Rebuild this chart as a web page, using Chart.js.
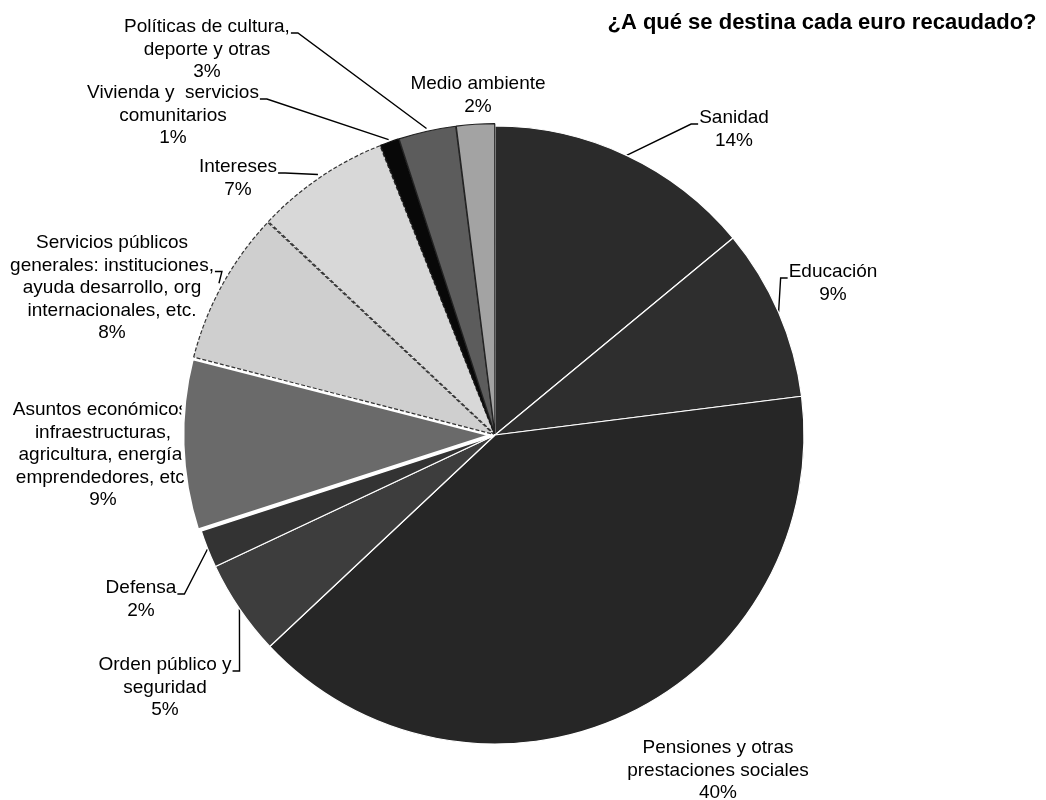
<!DOCTYPE html>
<html lang="es">
<head>
<meta charset="utf-8">
<title>¿A qué se destina cada euro recaudado?</title>
<script src="https://cdn.jsdelivr.net/npm/chart.js@4.4.1/dist/chart.umd.min.js"></script>
<style>
  html, body { margin: 0; padding: 0; background: #fff; }
  #wrap { position: relative; width: 1046px; height: 800px; }
</style>
</head>
<body>
<div id="wrap"><canvas id="pie"></canvas></div>
<script>
const chartTitle = "¿A qué se destina cada euro recaudado?";

// slices, clockwise from 12 o'clock
const categories = [
  "Sanidad",
  "Educación",
  "Pensiones y otras\nprestaciones sociales",
  "Orden público y\nseguridad",
  "Defensa",
  "Asuntos económicos:\ninfraestructuras,\nagricultura, energía,\nemprendedores, etc.",
  "Servicios públicos\ngenerales: instituciones,\nayuda desarrollo, org\ninternacionales, etc.",
  "Intereses",
  "Vivienda y  servicios\ncomunitarios",
  "Políticas de cultura,\ndeporte y otras",
  "Medio ambiente"
];
const shares = [14, 9, 40, 5, 2, 9, 8, 7, 1, 3, 2];

const sliceColors = ["#2b2b2b", "#2e2e2e", "#262626", "#3d3d3d", "#333333", "#6a6a6a",
                     "#cfcfcf", "#d8d8d8", "#080808", "#5c5c5c", "#a3a3a3"];
const edgeColors = ["#ffffff", "#ffffff", "#ffffff", "#ffffff", "#ffffff", "#ffffff",
                    "#333333", "#333333", "#111111", "#222222", "#222222"];
const edgeWidths = [1.2, 1.2, 1.2, 1.2, 1.2, 4, 1.2, 1.2, 1.2, 1.2, 1.2];
const sliceOffsets = [0, 0, 0, 0, 0, 10, 6, 6, 5, 5, 5];

// label block: text centre x, first line centre y, line the leader attaches to (-1 = none)
const labelLayout = [
  [734, 118, 0], [833, 272, 0], [718, 748, -1], [165, 665, 0], [141, 588, 0], [103, 410, -1],
  [112, 243, 1], [238, 167, 0], [173, 93, 0], [207, 27, 0], [478, 84, -1]
];
const LINE_H = 22.5;
const LABEL_FONT = "19px 'Liberation Sans', Arial, sans-serif";

const pieLabels = {
  id: "pieLabels",
  beforeDatasetsDraw(chart) {
    const ctx = chart.ctx;
    const meta = chart.getDatasetMeta(0);
    ctx.save();
    ctx.font = LABEL_FONT;
    ctx.fillStyle = "#000";
    ctx.strokeStyle = "#000";
    ctx.lineWidth = 1.4;
    ctx.textAlign = "center";
    ctx.textBaseline = "middle";

    meta.data.forEach((arc, i) => {
      const p = arc.getProps(["x", "y", "startAngle", "endAngle", "outerRadius"], true);
      const [lx, ly, attach] = labelLayout[i];
      const lines = categories[i].split("\n").concat(shares[i] + "%");

      lines.forEach((t, k) => ctx.fillText(t, lx, ly + k * LINE_H));

      if (attach < 0) return;
      const mid = (p.startAngle + p.endAngle) / 2;
      const r = p.outerRadius + sliceOffsets[i];
      const ax = p.x + Math.cos(mid) * r;
      const ay = p.y + Math.sin(mid) * r;
      const w = ctx.measureText(lines[attach]).width;
      const onRight = ax > lx;
      const ex = onRight ? lx + w / 2 + 1 : lx - w / 2 - 1;
      const by = ly + attach * LINE_H + 6;
      const tail = onRight ? ex + 7 : ex - 7;
      ctx.beginPath();
      ctx.moveTo(ax, ay);
      ctx.lineTo(tail, by);
      ctx.lineTo(ex, by);
      ctx.stroke();
    });
    ctx.restore();
  },
  afterDraw(chart) {
    const ctx = chart.ctx;
    ctx.save();
    ctx.font = "bold 22px 'Liberation Sans', Arial, sans-serif";
    ctx.fillStyle = "#000";
    ctx.textAlign = "center";
    ctx.textBaseline = "middle";
    ctx.fillText(chartTitle, 822, 23);
    ctx.restore();
  }
};

new Chart(document.getElementById("pie"), {
  type: "pie",
  data: {
    labels: categories,
    datasets: [{
      data: shares,
      backgroundColor: sliceColors,
      borderColor: edgeColors,
      borderWidth: edgeWidths,
      offset: sliceOffsets,
      borderDash: (c) => (c.dataIndex === 6 || c.dataIndex === 7) ? [4, 2] : []
    }]
  },
  options: {
    responsive: true,
    maintainAspectRatio: false,
    animation: false,
    radius: 309,
    layout: { padding: { left: 95, right: 151, top: 75, bottom: 5 } },
    plugins: {
      legend: { display: false },
      tooltip: { enabled: false },
      title: { display: false }
    }
  },
  plugins: [pieLabels]
});
</script>
</body>
</html>
